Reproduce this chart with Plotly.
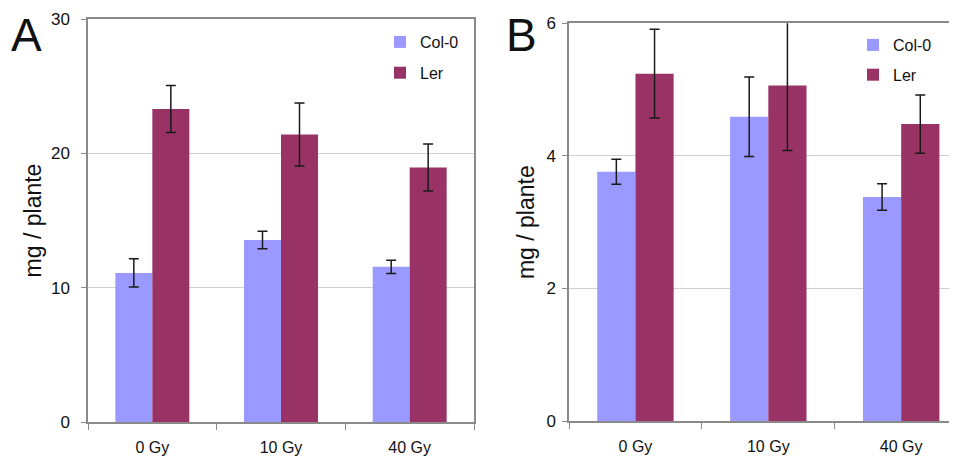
import plotly.graph_objects as go

categories = ["0 Gy", "10 Gy", "40 Gy"]
series_names = ["Col-0", "Ler"]

a_col0 = [11.1, 13.55, 11.55]
a_col0_err = [1.05, 0.65, 0.5]
a_ler = [23.3, 21.4, 18.95]
a_ler_err = [1.75, 2.35, 1.75]

b_col0 = [3.76, 4.59, 3.38]
b_col0_err = [0.19, 0.6, 0.2]
b_ler = [5.24, 5.06, 4.48]
b_ler_err = [0.67, 0.98, 0.44]

a_ticks = [0, 10, 20, 30]
b_ticks = [0, 2, 4, 6]

COL_COLOR = "#9999ff"
LER_COLOR = "#993366"
FONT = "Arial, Liberation Sans, sans-serif"

W, H = 957, 459
OFF = 8  # default page body margin


def px(x):
    return (x - OFF) / W


def py(y):
    return 1 - (y - OFF) / H


fig = go.Figure()


def add_bars(x_ax, y_ax, vals, errs, name, color, legend, group):
    fig.add_trace(go.Bar(
        x=categories, y=vals, name=name, marker=dict(color=color, line=dict(width=0)),
        error_y=dict(type="data", array=errs, color="#1a1a1a", thickness=1.5, width=5),
        xaxis=x_ax, yaxis=y_ax, legend=legend, legendgroup=group, cliponaxis=False,
    ))


add_bars("x", "y", a_col0, a_col0_err, series_names[0], COL_COLOR, "legend", "a1")
add_bars("x", "y", a_ler, a_ler_err, series_names[1], LER_COLOR, "legend", "a2")
add_bars("x2", "y2", b_col0, b_col0_err, series_names[0], COL_COLOR, "legend2", "b1")
add_bars("x2", "y2", b_ler, b_ler_err, series_names[1], LER_COLOR, "legend2", "b2")

axis_line = "#8a8a8a"
grid = "#d0d0d0"

xcommon = dict(type="category", showline=True, linecolor=axis_line, linewidth=1.5, mirror=True,
               ticks="outside", tickson="boundaries", ticklen=6, tickcolor=axis_line, automargin=False,
               ticklabelstandoff=10,
               tickfont=dict(family=FONT, size=16, color="#111"), showgrid=False, zeroline=False)
ycommon = dict(showline=True, linecolor=axis_line, linewidth=1.5, mirror=True, automargin=False,
               ticks="outside", ticklen=5, tickcolor=axis_line, showgrid=True, gridcolor=grid, gridwidth=1,
               tickfont=dict(family=FONT, size=17, color="#111"), zeroline=False)

ytitle_font = dict(family=FONT, size=23, color="#111")

fig.update_layout(
    width=W, height=H, margin=dict(l=0, r=0, t=0, b=0, autoexpand=False),
    paper_bgcolor="white", plot_bgcolor="white",
    barmode="group", bargap=0.425, bargroupgap=0,
    xaxis=dict(xcommon, domain=[px(88), px(474)], anchor="y", range=[-0.5, 2.5]),
    yaxis=dict(ycommon, domain=[py(422), py(19)], anchor="x", range=[0, 30], tickvals=a_ticks,
               ticklabelstandoff=8, title=dict(text="mg / plante", font=ytitle_font, standoff=3)),
    xaxis2=dict(xcommon, domain=[px(569), px(957)], anchor="y2", range=[-0.5, 2.42]),
    yaxis2=dict(ycommon, domain=[py(421), py(23.3)], anchor="x2", range=[0, 6], tickvals=b_ticks,
                ticklabelstandoff=3, title=dict(text="mg / plante", font=ytitle_font, standoff=5)),
    legend=dict(x=px(380), y=py(25), xanchor="left", yanchor="top",
                font=dict(family=FONT, size=16, color="#111"), bgcolor="rgba(0,0,0,0)",
                itemwidth=30, tracegroupgap=7),
    legend2=dict(x=px(853), y=py(28), xanchor="left", yanchor="top",
                 font=dict(family=FONT, size=16, color="#111"), bgcolor="rgba(0,0,0,0)",
                 itemwidth=30, tracegroupgap=6),
    annotations=[
        dict(text="A", x=px(26.5), y=py(35), xref="paper", yref="paper", xanchor="center", yanchor="middle",
             borderpad=0, showarrow=False, font=dict(family=FONT, size=46, color="#111")),
        dict(text="B", x=px(521), y=py(35), xref="paper", yref="paper", xanchor="center", yanchor="middle",
             borderpad=0, showarrow=False, font=dict(family=FONT, size=46, color="#111")),
    ],
)

fig.write_html("out.html")
